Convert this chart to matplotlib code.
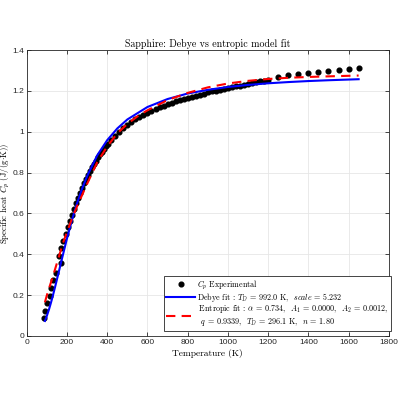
import matplotlib
matplotlib.use("Agg")
import matplotlib.pyplot as plt
from matplotlib.ticker import FuncFormatter

# experimental Cp of sapphire (K, J/(g K))
t_exp = [86, 92, 102, 114, 122, 132, 147, 169, 162, 172, 182, 194,
         204, 214, 224, 234, 244, 254, 264, 274, 284, 294, 304, 314, 324,
         334, 344, 354, 364, 374, 384, 394, 404, 420, 440, 460, 480, 500,
         520, 540, 560, 580, 600, 620, 640, 660, 680, 700, 720, 740, 760,
         780, 800, 820, 840, 860, 880, 900, 920, 940, 960, 980, 1000, 1020,
         1040, 1060, 1080, 1100, 1120, 1140, 1160, 1180, 1200,
         1250, 1300, 1350, 1400, 1450, 1500, 1550, 1600, 1650]
cp_exp = [0.090, 0.124, 0.163, 0.197, 0.236, 0.274, 0.310, 0.356, 0.392, 0.429, 0.465, 0.499,
          0.532, 0.563, 0.594, 0.622, 0.650, 0.676, 0.701, 0.725, 0.748, 0.769, 0.789, 0.808, 0.826,
          0.843, 0.859, 0.874, 0.889, 0.903, 0.916, 0.929, 0.941, 0.958, 0.979, 0.999, 1.017, 1.033,
          1.047, 1.060, 1.072, 1.083, 1.093, 1.103, 1.112, 1.120, 1.128, 1.135, 1.142, 1.149, 1.155,
          1.161, 1.167, 1.172, 1.177, 1.182, 1.187, 1.192, 1.197, 1.201, 1.206, 1.210, 1.214, 1.218,
          1.222, 1.226, 1.230, 1.234, 1.238, 1.242, 1.246, 1.250, 1.255,
          1.269, 1.276, 1.282, 1.287, 1.293, 1.298, 1.303, 1.308, 1.314]

# Debye fit curve (T_D = 992 K, scale = 5.232)
t_debye = [90, 100, 110, 120, 130, 140, 150, 160, 175, 200, 225, 250, 275, 300,
           350, 400, 450, 500, 600, 700, 800, 900, 1000, 1100, 1200, 1300,
           1400, 1500, 1650]
cp_debye = [0.0735, 0.0993, 0.129, 0.1626, 0.199, 0.2375, 0.2775, 0.318, 0.379, 0.478,
            0.569, 0.650, 0.721, 0.783, 0.884, 0.959, 1.016, 1.060, 1.121, 1.160,
            1.187, 1.205, 1.219, 1.229, 1.237, 1.243, 1.248, 1.252, 1.257]

# entropic fit curve
t_ent = [90, 100, 110, 120, 130, 140, 160, 180, 200, 225, 250, 275, 300, 350,
         400, 450, 500, 550, 600, 700, 800, 900, 1000, 1100, 1200, 1300, 1400,
         1500, 1650]
cp_ent = [0.165, 0.200, 0.232, 0.262, 0.293, 0.325, 0.390, 0.455, 0.510, 0.575,
          0.635, 0.690, 0.745, 0.850, 0.928, 0.992, 1.038, 1.075, 1.105, 1.155,
          1.190, 1.217, 1.236, 1.249, 1.258, 1.264, 1.268, 1.271, 1.275]

plt.rcParams["mathtext.fontset"] = "cm"
serif = "cmr10"
axcol = (0.15, 0.15, 0.15)

fig = plt.figure(figsize=(4, 4), dpi=100)
ax = fig.add_axes([0.067, 0.16, 0.905, 0.715])

ax.plot(t_exp, cp_exp, "o", color="k", markersize=3.4, label=r"$C_p$ Experimental")
ax.plot(t_debye, cp_debye, "-", color="b", lw=1.5,
        label=r"Debye fit : $T_D$ = 992.0 K,  $scale$ = 5.232")
ax.plot(t_ent, cp_ent, "--", color="r", lw=1.5, dashes=(4.5, 3),
        label="$\\;$Entropic fit : $\\alpha$ = 0.734,  $A_1$ = 0.0000,  $A_2$ = 0.0012,\n"
              "$\\;\\;$$q$ = 0.9339,  $T_D$ = 296.1 K,  $n$ = 1.80")

ax.set_xlim(0, 1800)
ax.set_ylim(0, 1.4)
ax.set_xticks(range(0, 1801, 200))
ax.set_yticks([0, 0.2, 0.4, 0.6, 0.8, 1.0, 1.2, 1.4])
ax.yaxis.set_major_formatter(FuncFormatter(lambda v, p: "%g" % v))
ax.tick_params(direction="in", length=3, width=0.6, top=True, right=True,
               labelsize=6, colors=axcol, pad=2)
for lab in ax.get_xticklabels() + ax.get_yticklabels():
    lab.set_family("Liberation Sans")
for s in ax.spines.values():
    s.set_color(axcol)
    s.set_linewidth(0.6)
ax.grid(True, color=(0.9, 0.9, 0.9), lw=0.6)
ax.set_axisbelow(True)

ax.set_title("Sapphire: Debye vs entropic model fit", family=serif, fontsize=7.2, pad=2)
ax.set_xlabel("Temperature (K)", family=serif, fontsize=6.8, labelpad=2)
ax.set_ylabel(r"Specific heat $C_p$ (J/(g$\cdot$K))", family=serif, fontsize=6.3)
ax.yaxis.set_label_coords(-0.04, 0.5)

leg = ax.legend(loc="lower right", bbox_to_anchor=(1.005, 0.018), borderaxespad=0,
                prop={"family": serif, "size": 5.8}, fancybox=False, framealpha=1,
                edgecolor=axcol, handlelength=3.6, handletextpad=0.25,
                labelspacing=-0.1, borderpad=0.3)
leg.get_frame().set_linewidth(0.6)
leg.get_texts()[2].set_multialignment("left")

fig.savefig("out.png", dpi=100)
